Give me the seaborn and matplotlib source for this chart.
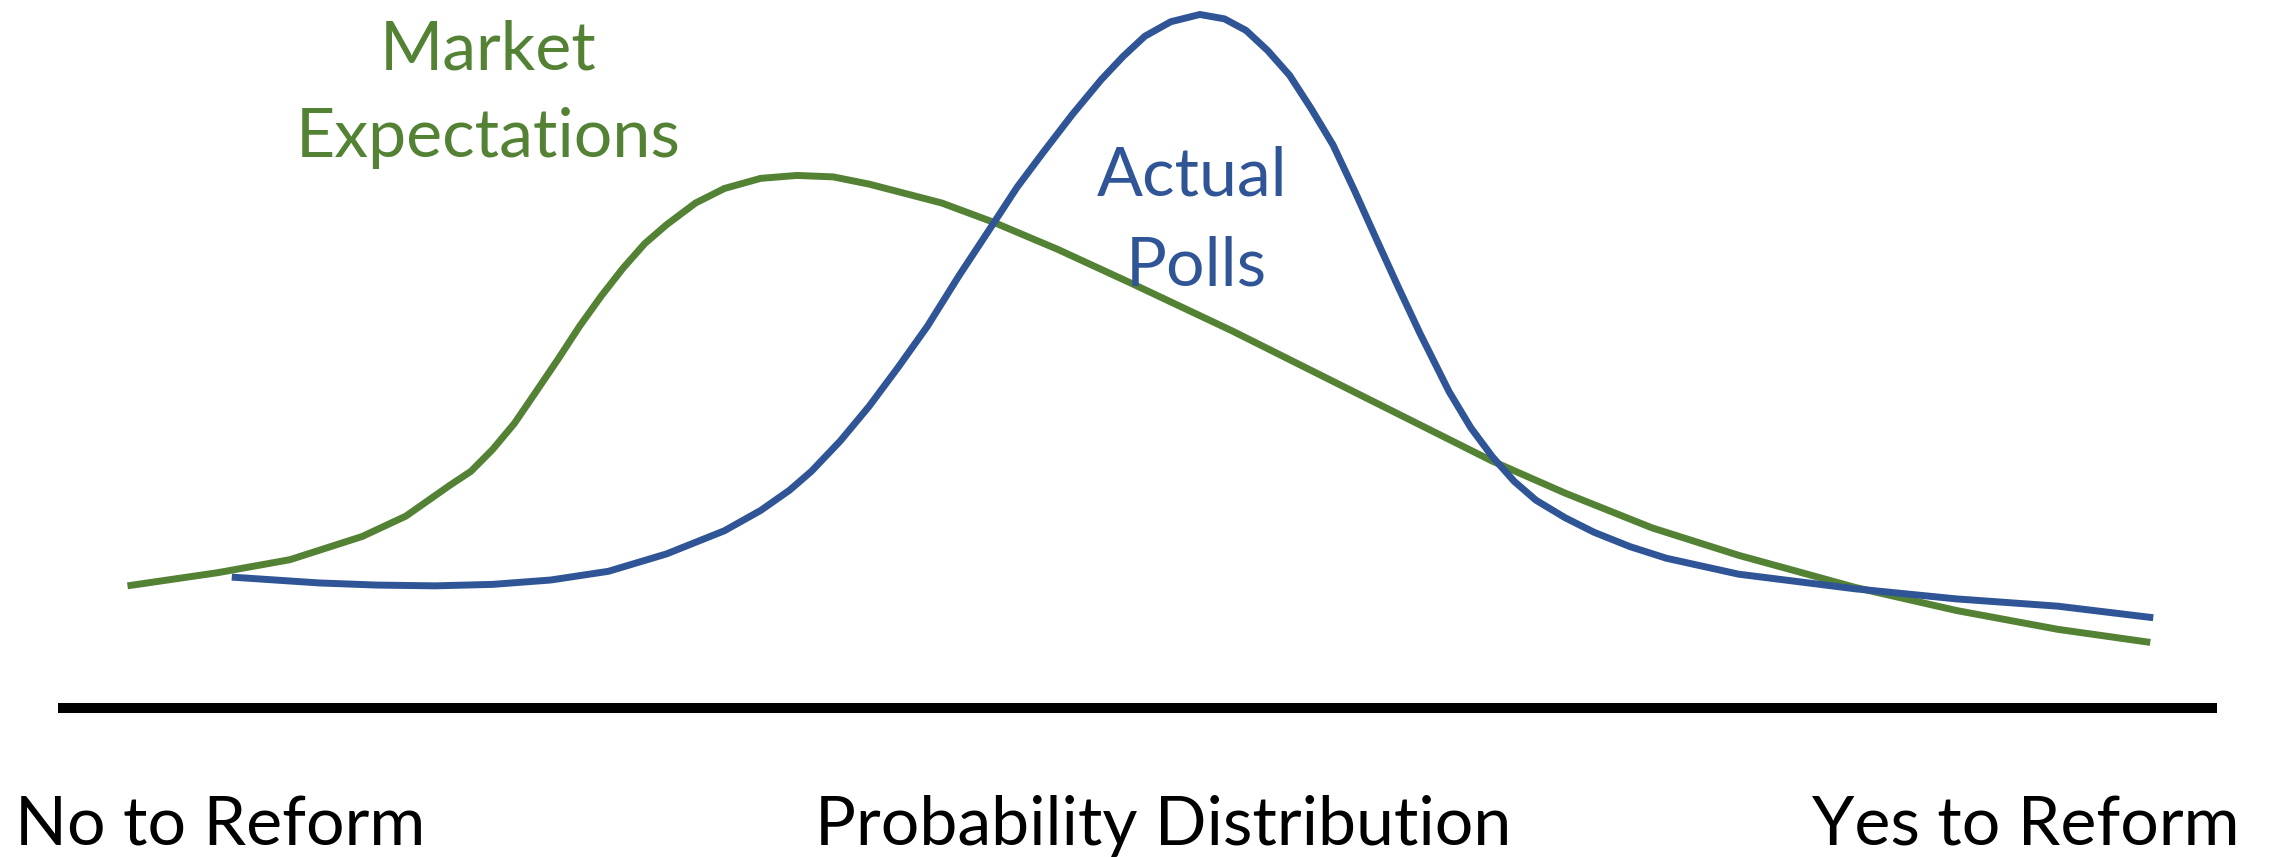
import numpy as np
import pandas as pd
import seaborn as sns
import matplotlib.pyplot as plt

# positions along the No -> Yes axis (0..100) and relative density (blue peak = 100)
market_x = [3.22, 7.38, 10.74, 14.09, 16.11, 18.12, 19.13, 20.13, 21.14, 22.15, 23.15, 24.16,
            25.17, 26.17, 27.18, 28.19, 29.53, 30.87, 32.55, 34.23, 35.91, 37.58, 40.94, 43.29,
            46.31, 49.66, 54.36, 59.06, 64.43, 66.44, 69.80, 73.83, 77.85, 80.54, 83.22, 87.92,
            92.62, 96.91]
market_y = [17.57, 19.46, 21.34, 24.69, 27.62, 32.01, 34.10, 37.24, 41.00, 45.61, 50.21, 55.02,
            59.41, 63.39, 66.95, 69.67, 72.80, 74.90, 76.36, 76.78, 76.57, 75.52, 72.80, 70.08,
            66.11, 61.30, 54.39, 47.07, 38.70, 35.56, 30.96, 25.94, 21.97, 19.67, 17.36, 14.02,
            11.30, 9.41]

polls_x = [8.05, 12.08, 14.77, 17.45, 20.13, 22.82, 25.50, 28.19, 30.87, 32.55,
           33.89, 34.90, 36.24, 37.58, 38.93, 40.27, 41.74, 43.29, 44.43, 45.64,
           46.98, 48.32, 49.33, 50.34, 51.54, 52.89, 54.03, 55.03, 56.04, 57.05,
           58.05, 59.06, 60.07, 61.07, 62.08, 63.09, 64.43, 65.44, 66.44, 67.45,
           68.46, 69.80, 71.14, 72.82, 74.50, 77.85, 80.54, 83.22, 87.92, 92.62,
           97.05]
polls_y = [18.83, 17.99, 17.68, 17.57, 17.78, 18.41, 19.67, 22.18, 25.52, 28.45,
           31.38, 34.10, 38.49, 43.51, 49.16, 55.02, 62.34, 69.67, 75.10, 80.13,
           85.56, 90.59, 93.93, 96.86, 98.95, 100.0, 99.37, 97.70, 94.77, 91.21,
           86.40, 81.17, 74.48, 67.57, 60.67, 53.97, 45.61, 40.38, 36.19, 32.64,
           29.92, 27.41, 25.31, 23.22, 21.55, 19.25, 18.20, 17.15, 15.69, 14.64,
           12.97]

axis_x = [0, 100]
axis_y = [0, 0]

green = '#548235'
blue = '#2F5597'

sns.set_theme(style='white')
plt.rcParams['font.family'] = ['Lato', 'DejaVu Sans']

W, H = 2272, 857
fig = plt.figure(figsize=(W / 100, H / 100), dpi=100)
ax = fig.add_axes([0, 0, 1, 1])

market = pd.DataFrame({'x': market_x, 'y': market_y})
polls = pd.DataFrame({'x': polls_x, 'y': polls_y})
base = pd.DataFrame({'x': axis_x, 'y': axis_y})

sns.lineplot(data=base, x='x', y='y', color='black', linewidth=7.2,
             sort=False, estimator=None, ax=ax, solid_capstyle='butt')
sns.lineplot(data=market, x='x', y='y', color=green, linewidth=5,
             sort=False, estimator=None, ax=ax, solid_capstyle='butt', solid_joinstyle='round')
sns.lineplot(data=polls, x='x', y='y', color=blue, linewidth=5,
             sort=False, estimator=None, ax=ax, solid_capstyle='butt', solid_joinstyle='round')

ax.set_xlim(-2.685, 102.55)
ax.set_ylim(-21.55, 102.09)
ax.axis('off')


def put(px, py, s, color, ha='center'):
    fig.text(px / W, 1 - py / H, s, color=color, fontsize=49, ha=ha, va='baseline')


put(488, 69, 'Market', green)
put(488, 157, 'Expectations', green)
put(1192, 195, 'Actual', blue)
put(1196, 286, 'Polls', blue)

put(15, 845, 'No to Reform', 'black', ha='left')
put(1163, 845, 'Probability Distribution', 'black')
put(2239, 845, 'Yes to Reform', 'black', ha='right')

fig.savefig('out.png', dpi=100)
